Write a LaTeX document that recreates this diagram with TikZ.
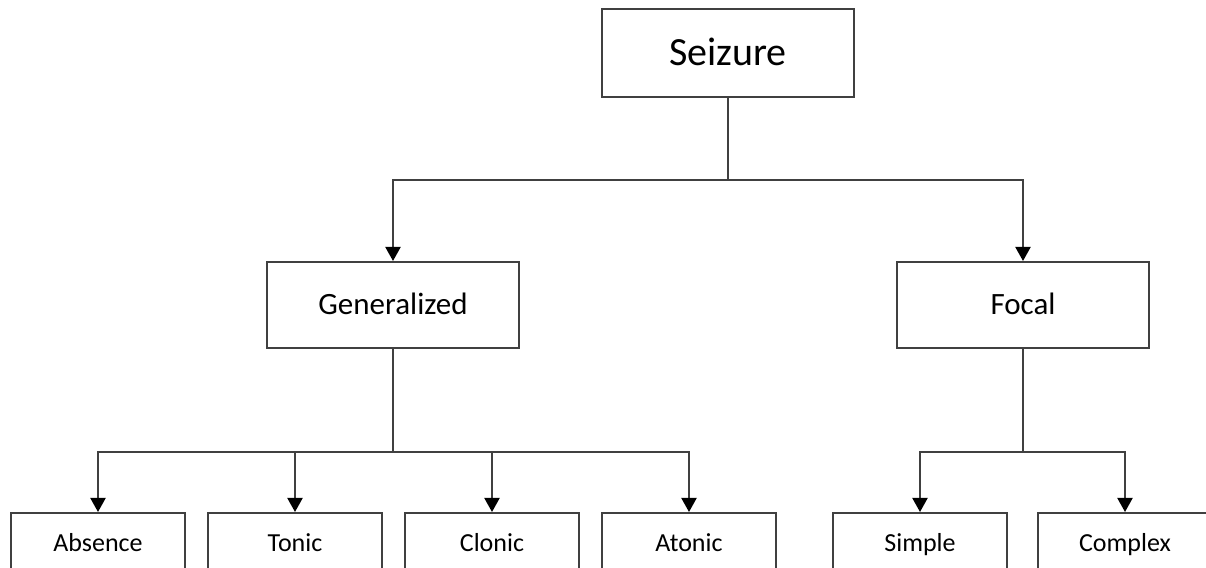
\documentclass[tikz,border=0pt]{standalone}
\usepackage{fontspec}
\setmainfont{Carlito}
\usetikzlibrary{arrows.meta}
\definecolor{linegray}{HTML}{404040}
\begin{document}
\begin{tikzpicture}[
    x=0.5pt, y=0.5pt,
    box/.style={
        draw=linegray, line width=1pt,
        fill=white, inner sep=0pt, text depth=0pt
    },
    root/.style={
        box, minimum width=126pt, minimum height=44pt,
        text height=12.9pt, font=\fontsize{20}{24}\selectfont
    },
    branch/.style={
        box, minimum width=126pt, minimum height=43pt,
        text height=10pt, font=\fontsize{15.5}{18}\selectfont
    },
    leaf/.style={
        box, minimum width=87pt, minimum height=30pt,
        text height=8.4pt, font=\fontsize{13}{16}\selectfont
    },
    link/.style={draw=linegray, line width=1pt},
    arr/.style={link, -{Triangle[width=7.5pt,length=7pt,color=black]}}
]
\useasboundingbox (0,0) rectangle (1206,568);

% Root
\node[root] (seiz) at (728, 515) {Seizure};

% Two main classes
\node[branch] (gen) at (393, 263) {Generalized};
\node[branch] (foc) at (1023, 263) {Focal};

% Leaves (cut by the lower edge)
\node[leaf] (abs) at (98, 25)   {Absence};
\node[leaf] (ton) at (295, 25)  {Tonic};
\node[leaf] (clo) at (492, 25)  {Clonic};
\node[leaf] (ato) at (689, 25)  {Atonic};
\node[leaf] (sim) at (920, 25)  {Simple};
\node[leaf] (com) at (1125, 25) {Complex};

% Junctions
\coordinate (jroot) at (728, 388);
\coordinate (jgen) at (393, 116);
\coordinate (jfoc) at (1023, 116);

% Root to classes
\draw[link] (seiz.south) -- (jroot);
\draw[arr] (jroot) -| (gen.north);
\draw[arr] (jroot) -| (foc.north);

% Generalized to its types
\draw[link] (gen.south) -- (jgen);
\draw[arr] (jgen) -| (abs.north);
\draw[arr] (jgen) -| (ton.north);
\draw[arr] (jgen) -| (clo.north);
\draw[arr] (jgen) -| (ato.north);

% Focal to its types
\draw[link] (foc.south) -- (jfoc);
\draw[arr] (jfoc) -| (sim.north);
\draw[arr] (jfoc) -| (com.north);

\end{tikzpicture}
\end{document}
